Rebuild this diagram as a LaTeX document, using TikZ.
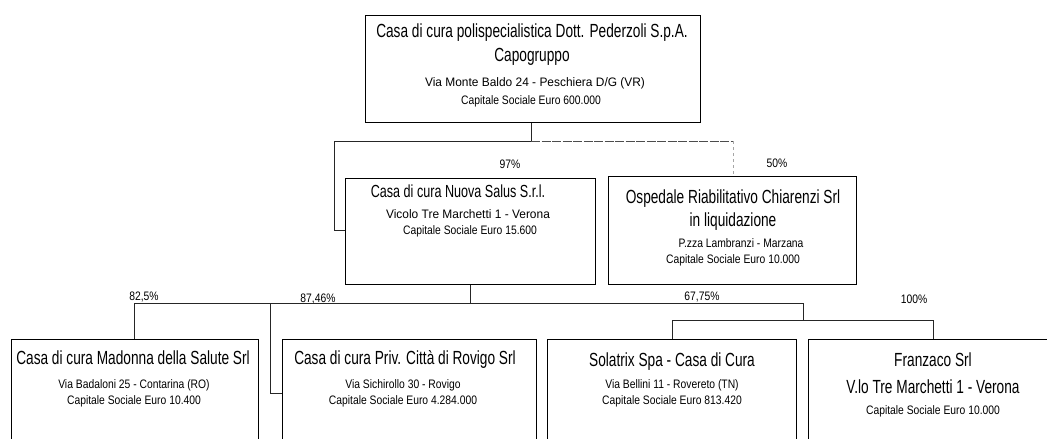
\documentclass[tikz,border=0pt]{standalone}
\usepackage{fontspec}
\setmainfont{Liberation Sans}[FakeStretch=0.72]
\newfontfamily\smallfam{Liberation Sans}[FakeStretch=0.84]
\newfontfamily\widefam{Liberation Sans}[FakeStretch=0.97]
\begin{document}
\begin{tikzpicture}[x=1pt,y=-1pt,
  box/.style={draw=black,line width=1.3pt,anchor=north west,inner sep=0pt},
  big/.style={anchor=base,inner sep=0pt,font=\fontsize{19}{22}\selectfont},
  mid/.style={anchor=base,inner sep=0pt,font=\fontsize{17.5}{20}\selectfont},
  small/.style={anchor=base,inner sep=0pt,font=\smallfam\fontsize{12.3}{14}\selectfont},
  wide/.style={anchor=base,inner sep=0pt,font=\widefam\fontsize{12.3}{14}\selectfont},
  conn/.style={draw=black!85,line width=1pt},
  semi/.style={draw=black!70,line width=1pt,dash pattern=on 9pt off 1.5pt},
  faint/.style={draw=black!35,line width=1pt,dashed}]
\useasboundingbox (0,0) rectangle (1047,439);
\clip (0,0) rectangle (1047,439);
% boxes
\node[box,minimum width=335pt,minimum height=107pt] (top) at (365,15) {};
\node[box,minimum width=250pt,minimum height=106pt] (ns) at (345,178) {};
\node[box,minimum width=248pt,minimum height=108pt] (os) at (608,176) {};
\node[box,minimum width=247pt,minimum height=130pt] (md) at (11,339) {};
\node[box,minimum width=254pt,minimum height=130pt] (rv) at (282,339) {};
\node[box,minimum width=249pt,minimum height=130pt] (so) at (547,339) {};
\node[box,minimum width=250pt,minimum height=130pt] (fr) at (808,339) {};
% texts
\node[big] (t1) at (532,37) {Casa di cura polispecialistica Dott. Pederzoli S.p.A.};
\node[big] (t2) at (532,61) {Capogruppo};
\node[wide] (t3) at (535,86) {Via Monte Baldo 24 - Peschiera D/G (VR)};
\node[small] (t4) at (531,104) {Capitale Sociale Euro 600.000};
\node[mid] (n1) at (458,197) {Casa di cura Nuova Salus S.r.l.};
\node[wide] (n2) at (468,218) {Vicolo Tre Marchetti 1 - Verona};
\node[small] (n3) at (470,234) {Capitale Sociale Euro 15.600};
\node[big] (o1) at (733,203) {Ospedale Riabilitativo Chiarenzi Srl};
\node[big] (o2) at (733,226) {in liquidazione};
\node[small] (o3) at (741,247) {P.zza Lambranzi - Marzana};
\node[small] (o4) at (733,263) {Capitale Sociale Euro 10.000};
\node[big] (m1) at (133,364) {Casa di cura Madonna della Salute Srl};
\node[small] (m2) at (134,388) {Via Badaloni 25 - Contarina (RO)};
\node[small] (m3) at (134,404) {Capitale Sociale Euro 10.400};
\node[big] (r1) at (405,364) {Casa di cura Priv. Città di Rovigo Srl};
\node[small] (r2) at (403,388) {Via Sichirollo 30 - Rovigo};
\node[small] (r3) at (403,404) {Capitale Sociale Euro 4.284.000};
\node[big] (s1) at (672,366) {Solatrix Spa - Casa di Cura};
\node[small] (s2) at (672,388) {Via Bellini 11 - Rovereto (TN)};
\node[small] (s3) at (672,404) {Capitale Sociale Euro 813.420};
\node[big] (f1) at (933,366) {Franzaco Srl};
\node[big] (f2) at (933,393) {V.lo Tre Marchetti 1 - Verona};
\node[small] (f3) at (933,414) {Capitale Sociale Euro 10.000};
% percentages
\node[small] (p97) at (510,168) {97\%};
\node[small] (p50) at (777,167) {50\%};
\node[small] (p825) at (144,300) {82,5\%};
\node[small] (p8746) at (318,302) {87,46\%};
\node[small] (p6775) at (702,300) {67,75\%};
\node[small] (p100) at (914,303) {100\%};
% junction coordinates
\coordinate (j0) at (531,141);
\coordinate (jl) at (334,141);
\coordinate (jr) at (733,141);
\coordinate (k0) at (470,303);
\coordinate (kl) at (134,303);
\coordinate (km) at (270,303);
\coordinate (kr) at (803,303);
\coordinate (q0) at (803,320);
\coordinate (ql) at (672,320);
\coordinate (qr) at (933,320);
% connectors
\draw[conn] (top.south -| j0) -- (j0) -- (jl) |- (ns.west |- 0,230);
\draw[semi] (j0) -- (jr);
\draw[faint] (jr) -- (os.north -| jr);
\draw[conn] (ns.south -| k0) -- (k0) -- (kl) -- (md.north -| kl);
\draw[conn] (k0) -- (kr) -- (q0);
\draw[conn] (km) |- (rv.west |- 0,393);
\draw[conn] (ql) -- (qr);
\draw[conn] (ql) -- (so.north -| ql);
\draw[conn] (qr) -- (fr.north -| qr);
\end{tikzpicture}
\end{document}
